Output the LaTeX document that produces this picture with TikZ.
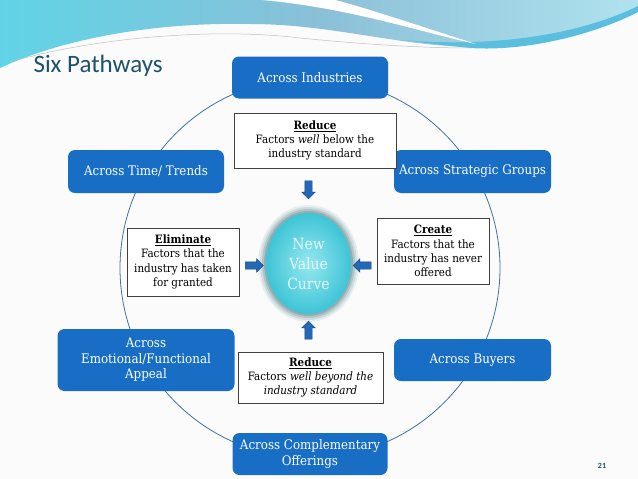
\documentclass[tikz,border=0pt]{standalone}
\usepackage{fontspec}
\setmainfont{DejaVu Serif Condensed}
\newfontfamily\titlefont{Carlito}
\usetikzlibrary{shapes.geometric,shapes.arrows,positioning,calc}
\definecolor{pathblue}{RGB}{24,110,196}
\definecolor{ringblue}{RGB}{62,112,165}
\definecolor{titleteal}{RGB}{28,82,108}
\definecolor{arrowblue}{RGB}{34,104,182}
\definecolor{curvein}{RGB}{150,232,240}
\definecolor{curveout}{RGB}{62,196,214}
\definecolor{halo}{RGB}{100,140,148}
\definecolor{wavecyan}{RGB}{96,212,230}
\definecolor{waveblue}{RGB}{138,192,216}
\definecolor{wavepale}{RGB}{176,226,238}
\definecolor{wavedeep}{RGB}{90,190,222}
\newcommand{\slashmark}{/}

\tikzset{
  pathway/.style={fill=pathblue,text=white,rounded corners=7pt,align=center,
    font=\fontsize{13.2}{15.5}\selectfont,inner sep=2pt},
  factor/.style={draw=black!75,fill=white,line width=0.8pt,align=center,
    font=\fontsize{11.5}{14.3}\selectfont,inner sep=2pt},
  pusher/.style={single arrow,fill=arrowblue,draw=arrowblue!70!black,line width=0.4pt,
    minimum height=18pt,inner sep=3.5pt,single arrow head extend=3pt}
}

\begin{document}
\begin{tikzpicture}[x=1pt,y=-1pt]
  \useasboundingbox (0,0) rectangle (638,479);
  \fill[white!97!gray] (0,0) rectangle (638,479);
  % waves at the top
  \shade[left color=wavecyan,right color=wavepale,middle color=waveblue]
    (0,0) -- (638,0) -- (638,8) .. controls (610,26) and (560,48) .. (470,47)
    .. controls (400,46) and (330,24) .. (250,24)
    .. controls (150,22) and (60,40) .. (0,68) -- cycle;
  \fill[wavedeep] (400,40) .. controls (520,50) and (600,25) .. (638,6) -- (638,12)
    .. controls (600,32) and (530,52) .. (470,48) -- cycle;
  \fill[white] (262,0) .. controls (350,8) and (420,32) .. (476,44)
    .. controls (420,26) and (360,6) .. (335,0) -- cycle;
  \draw[black!25,line width=0.5pt] (10,62) .. controls (100,36) and (220,28) .. (300,38)
    .. controls (360,44) and (420,48) .. (470,48);
  \node[font=\titlefont\fontsize{25}{28}\selectfont,text=titleteal,anchor=west] (title) at (30,66) {Six Pathways};
  \node[font=\titlefont\fontsize{8}{9}\selectfont\bfseries,text=titleteal] (pagenum) at (602,466) {21};

  % the ring
  \draw[ringblue,line width=0.8pt] (310,268) circle[radius=190];

  % six pathways
  \foreach \n/\x/\y/\w/\h/\t in {
    ind/310/77.5/156/42/Across Industries,
    strat/472.5/171.5/157/43/Across Strategic Groups,
    buy/472.5/360/157/42/Across Buyers,
    comp/310/454/155/42/Across Complementary\\Offerings,
    emo/146/360/177/62/Across\\Emotional\slashmark Functional\\Appeal,
    time/146/171.5/156/43/Across Time\slashmark{} Trends}
  {
    \node[pathway,minimum width=\w pt,minimum height=\h pt] (\n) at (\x,\y) {\t};
  }

  % value curve with its halo
  \foreach \g/\o in {8/0.12,6/0.18,4/0.28,2/0.4}
    \fill[halo,opacity=\o] (308.5,263.5) ellipse[x radius=42.5+\g,y radius=50.5+\g];
  \node[ellipse,minimum width=85pt,minimum height=101pt,inner color=curvein,outer color=curveout,
    text=white!75!curvein,align=center,font=\fontsize{15.5}{20}\selectfont,inner sep=0pt] (curve) at (308.5,263.5)
    {New\\Value\\Curve};

  % factor boxes
  \node[factor,minimum width=162pt,minimum height=55pt] (cutbelow) at (315,140.5)
    {\underline{\textbf{Reduce}}\\Factors \textit{well} below the\\industry standard};
  \node[factor,minimum width=112pt,minimum height=68pt] (eliminate) at (183,262)
    {\underline{\textbf{Eliminate}}\\Factors that the\\industry has taken\\for granted};
  \node[factor,minimum width=112pt,minimum height=66pt] (create) at (433,251)
    {\underline{\textbf{Create}}\\Factors that the\\industry has never\\offered};
  \node[factor,minimum width=145pt,minimum height=51pt] (cutbeyond) at (310.5,377.5)
    {\underline{\textbf{Reduce}}\\Factors \textit{well beyond the}\\\textit{industry standard}};

  % block arrows into the curve
  \node[pusher,shape border rotate=270] (pushdown) at (308.5,188) {};
  \node[pusher,shape border rotate=0] (pushright) at (252.5,265.5) {};
  \node[pusher,shape border rotate=180] (pushleft) at (364,265.5) {};
  \node[pusher,shape border rotate=90] (pushup) at (308.5,332) {};
\end{tikzpicture}
\end{document}
